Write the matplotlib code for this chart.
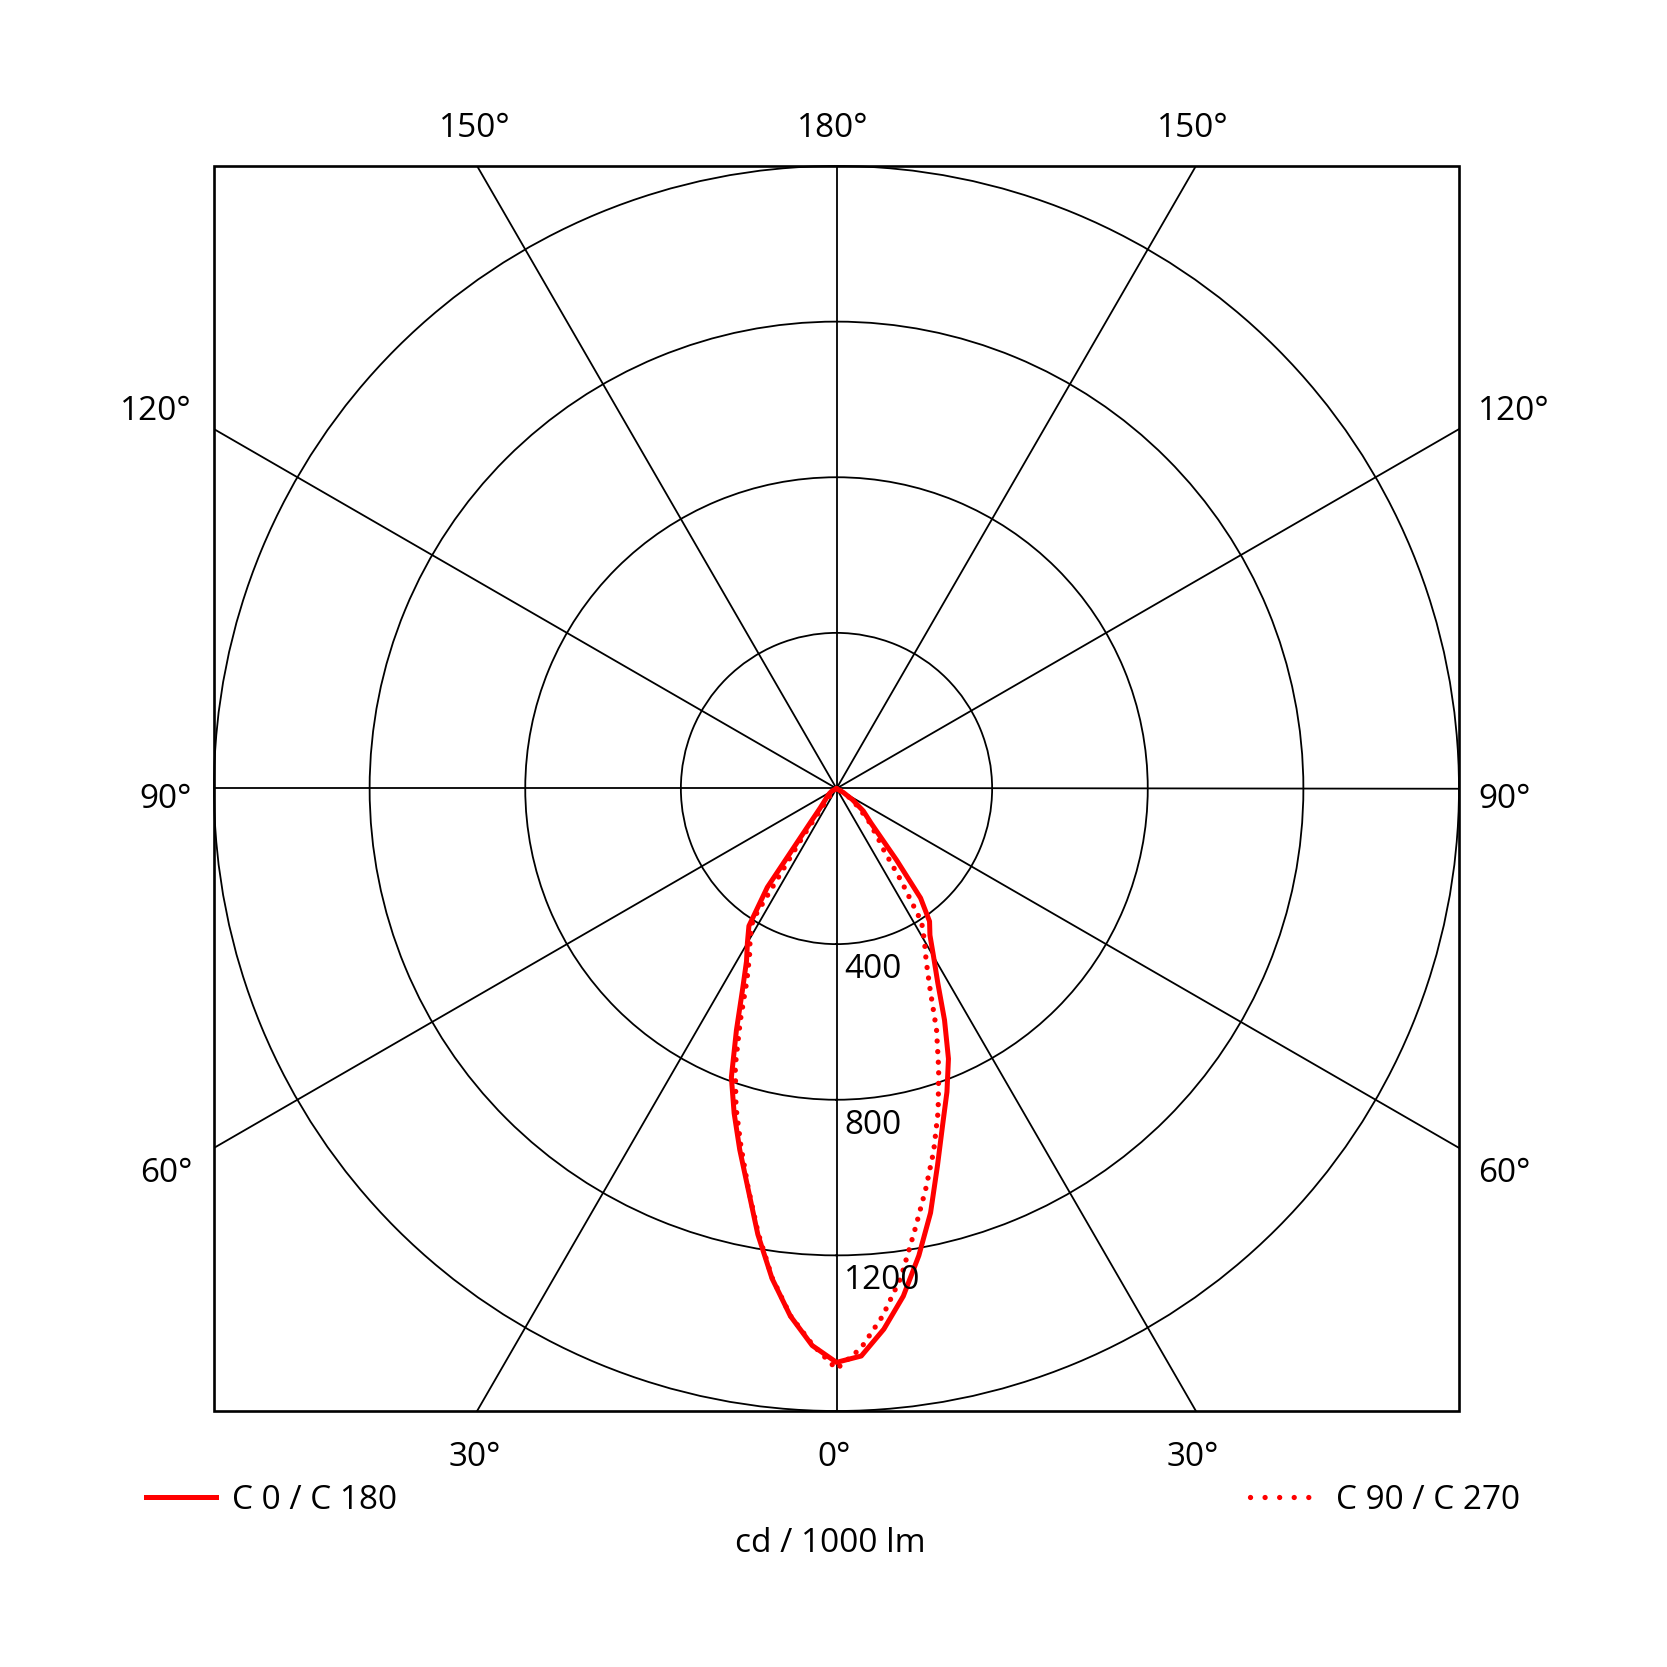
import numpy as np
import matplotlib
matplotlib.use("Agg")
import matplotlib.pyplot as plt
from matplotlib.patches import Rectangle
from matplotlib.lines import Line2D

# ---- data (cd / 1000 lm) ----
gamma = [0, 2.5, 5, 7.5, 10, 12.5, 15, 17.5, 20, 22.5, 25, 27.5, 30, 32.5,
         35, 37.5, 40, 45, 50, 55, 60, 70, 80, 90]
c0 = [1475, 1460, 1395, 1316, 1219, 1117, 1003, 907, 830, 752, 657, 564, 499,
      447, 417, 355, 240, 125, 90, 50, 20, 0, 0, 0]
c180 = [1475, 1433, 1361, 1270, 1164, 1052, 961, 875, 790, 672, 572, 501, 458,
        419, 310, 110, 65, 40, 30, 22, 15, 0, 0, 0]
c90 = [1492, 1440, 1361, 1268, 1155, 1057, 965, 869, 768, 672, 569, 499, 452,
       407, 290, 200, 165, 115, 70, 40, 15, 0, 0, 0]
c270 = [1492, 1430, 1360, 1268, 1160, 1050, 950, 859, 761, 646, 545, 484, 444,
        400, 150, 60, 30, 20, 15, 10, 5, 0, 0, 0]

ring_values = [400, 800, 1200]
ring_labels = ["400", "800", "1200"]
r_max = 1600
spoke_angles = [0, 30, 60, 90, 120, 150, 180, 210, 240, 270, 300, 330]

top_labels = ["150°", "180°", "150°"]
side_labels = ["120°", "90°", "60°"]
bottom_labels = ["30°", "0°", "30°"]
legend_labels = ["C 0 / C 180", "C 90 / C 270"]
unit_label = "cd / 1000 lm"

# ---- figure ----
W = 1667
plt.rcParams['font.family'] = ['Open Sans', 'DejaVu Sans']
fig = plt.figure(figsize=(W / 100, W / 100), dpi=100)

def fx(px):
    return px / W

def fy(py):
    return 1 - py / W

box_l, box_t, box_s = 214, 166, 1245
ax = fig.add_axes([fx(box_l), fy(box_t + box_s), box_s / W, box_s / W],
                  projection='polar')
ax.set_theta_zero_location('S')
ax.set_theta_direction(1)
ax.set_facecolor('none')

grid_lw = 1.3
red = '#ff0000'

# spokes, extended to the square frame
clip_rect = Rectangle((0, 0), 1, 1, transform=ax.transAxes)
for a in spoke_angles:
    ln, = ax.plot([np.deg2rad(a), np.deg2rad(a)], [0, r_max * 2],
                  color='black', lw=grid_lw, zorder=1)
    ln.set_clip_path(clip_rect)

# rings
ax.set_rgrids(ring_values, labels=[''] * len(ring_values))
ax.set_thetagrids([])
ax.yaxis.grid(True, color='black', lw=grid_lw)
ax.xaxis.grid(False)
ax.spines['polar'].set_linewidth(grid_lw)
ax.spines['polar'].set_color('black')

# curves
g = np.deg2rad(np.array(gamma))
th_solid = np.concatenate([-g[::-1], g[1:]])
r_solid = np.concatenate([np.array(c180)[::-1], np.array(c0)[1:]])
th_dot = np.concatenate([-g[::-1], g[1:]])
r_dot = np.concatenate([np.array(c270)[::-1], np.array(c90)[1:]])

ax.plot(th_dot, r_dot, color=red, lw=3.8, linestyle=(0, (0.01, 2.0)),
        dash_capstyle='round', zorder=3)
ax.plot(th_solid, r_solid, color=red, lw=3.6, solid_joinstyle='round',
        solid_capstyle='round', zorder=4)

ax.set_rlim(0, r_max)

fs = 24
# ring labels
for v, lab in zip(ring_values, ring_labels):
    ax.annotate(lab, xy=(0, v), xytext=(5.5, -24.5), textcoords='offset points',
                ha='left', va='baseline', fontsize=fs, zorder=5)

# frame
fig.add_artist(Rectangle((fx(box_l), fy(box_t + box_s)), box_s / W, box_s / W,
                         transform=fig.transFigure, fill=False,
                         edgecolor='black', lw=1.9))

# top labels
for x, lab in zip([475, 833, 1193], top_labels):
    fig.text(fx(x), fy(137), lab, ha='center', va='baseline', fontsize=fs)
# bottom labels
for x, lab in zip([475, 834, 1193], bottom_labels):
    fig.text(fx(x), fy(1466), lab, ha='center', va='baseline', fontsize=fs)
# side labels
for y, lab in zip([420, 808, 1182], side_labels):
    fig.text(fx(192), fy(y), lab, ha='right', va='baseline', fontsize=fs)
    fig.text(fx(1478), fy(y), lab, ha='left', va='baseline', fontsize=fs)

# legend
fig.add_artist(Line2D([fx(146), fx(216)], [fy(1497), fy(1497)], color=red,
                      lw=3.6, transform=fig.transFigure))
fig.text(fx(232), fy(1509), legend_labels[0], ha='left', va='baseline',
         fontsize=fs)
fig.add_artist(Line2D([fx(1250), fx(1310)], [fy(1497), fy(1497)], color=red,
                      lw=3.8, linestyle=(0, (0.01, 2.75)), dash_capstyle='round',
                      transform=fig.transFigure))
fig.text(fx(1336), fy(1509), legend_labels[1], ha='left', va='baseline',
         fontsize=fs)
fig.text(fx(830), fy(1552), unit_label, ha='center', va='baseline', fontsize=fs)

fig.savefig('out.png', dpi=100, facecolor='white')
